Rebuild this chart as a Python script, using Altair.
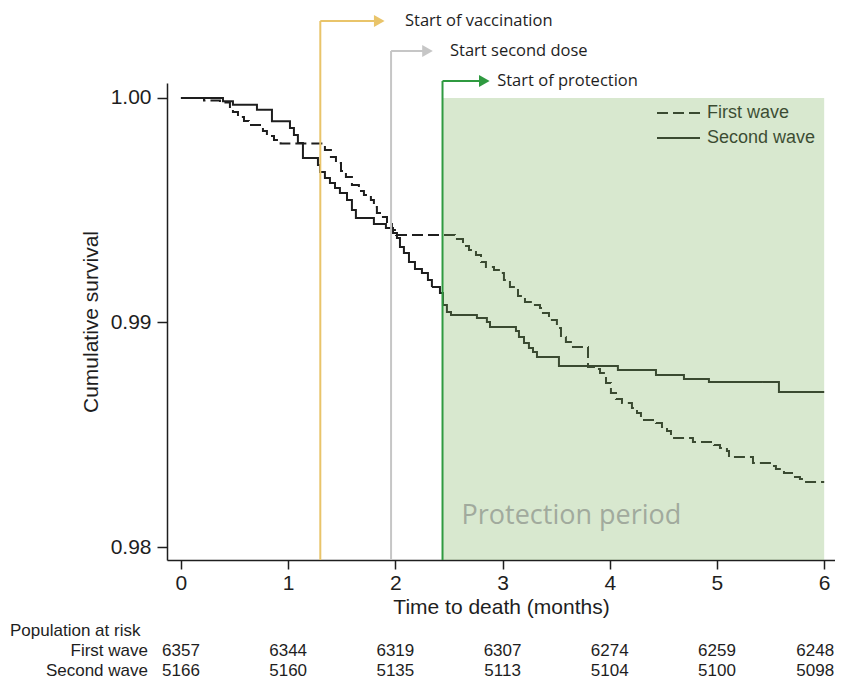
import altair as alt
import pandas as pd

# ---------------- data ----------------
first_t = [0.0, 0.215, 0.364, 0.457, 0.485, 0.532, 0.588, 0.634, 0.765, 0.802, 0.868, 0.930,
           1.343, 1.399, 1.446, 1.493, 1.539, 1.595, 1.660, 1.707, 1.772, 1.800, 1.828, 1.875,
           1.922, 1.968, 2.006, 2.556, 2.631, 2.687, 2.752, 2.799, 2.845, 2.920, 2.966, 3.013,
           3.069, 3.144, 3.209, 3.274, 3.349, 3.377, 3.433, 3.507, 3.545, 3.591, 3.647, 3.797,
           3.862, 3.909, 3.965, 4.011, 4.058, 4.114, 4.207, 4.254, 4.291, 4.431, 4.487, 4.534,
           4.571, 4.776, 4.972, 5.028, 5.093, 5.112, 5.336, 5.494, 5.550, 5.625, 5.700, 5.774,
           5.821, 6.0]
first_s = [1.0, 0.99989, 0.99980, 0.99955, 0.99938, 0.99915, 0.99898, 0.99880, 0.99853, 0.99831,
           0.99813, 0.99797, 0.99768, 0.99737, 0.99710, 0.99675, 0.99648, 0.99612, 0.99586, 0.99568,
           0.99546, 0.99514, 0.99488, 0.99470, 0.99448, 0.99412, 0.99390, 0.99372, 0.99341, 0.99323,
           0.99301, 0.99269, 0.99247, 0.99234, 0.99220, 0.99189, 0.99158, 0.99118, 0.99091, 0.99078,
           0.99065, 0.99042, 0.99011, 0.98976, 0.98935, 0.98913, 0.98891, 0.98802, 0.98793, 0.98775,
           0.98731, 0.98686, 0.98659, 0.98641, 0.98619, 0.98597, 0.98566, 0.98552, 0.98535, 0.98517,
           0.98486, 0.98468, 0.98454, 0.98441, 0.98428, 0.98401, 0.98374, 0.98361, 0.98347, 0.98330,
           0.98312, 0.98303, 0.98290, 0.98290]

second_t = [0.0, 0.392, 0.485, 0.709, 0.849, 1.017, 1.054, 1.091, 1.138, 1.278, 1.297, 1.343,
            1.390, 1.437, 1.483, 1.549, 1.595, 1.632, 1.800, 1.912, 1.978, 2.015, 2.043, 2.080,
            2.127, 2.183, 2.248, 2.304, 2.341, 2.416, 2.444, 2.481, 2.519, 2.761, 2.854, 2.883,
            3.125, 3.153, 3.200, 3.246, 3.284, 3.321, 3.526, 4.076, 4.431, 4.692, 4.925, 5.578, 6.0]
second_s = [1.0, 0.99985, 0.99970, 0.99948, 0.99896, 0.99866, 0.99835, 0.99800, 0.99733, 0.99702,
            0.99670, 0.99644, 0.99621, 0.99599, 0.99577, 0.99546, 0.99501, 0.99465, 0.99439, 0.99421,
            0.99399, 0.99376, 0.99336, 0.99310, 0.99269, 0.99238, 0.99220, 0.99189, 0.99158, 0.99131,
            0.99078, 0.99047, 0.99033, 0.99020, 0.99002, 0.98980, 0.98962, 0.98935, 0.98909, 0.98886,
            0.98869, 0.98846, 0.98806, 0.98788, 0.98766, 0.98748, 0.98735, 0.98690, 0.98690]

wave_names = ["First wave", "Second wave"]
months = [0, 1, 2, 3, 4, 5, 6]
first_risk = [6357, 6344, 6319, 6307, 6274, 6259, 6248]
second_risk = [5166, 5160, 5135, 5113, 5104, 5100, 5098]
y_ticks = [0.98, 0.99, 1.00]

event_labels = ["Start of vaccination", "Start second dose", "Start of protection"]
event_times = [1.30, 1.96, 2.44]
protection_start = 2.44
protection_end = 6.0

# ---------------- layout / style ----------------
W, H = 668, 477
event_colors = ["#e9c46a", "#c6c6c6", "#2f9a40"]
arrow_top = [-62, -32, -2]          # pixel offsets above the plot
arrow_tip = [1.85, 2.30, 2.83]      # x position of arrow heads (months axis)
label_x = [2.09, 2.51, 2.95]        # x position of annotation labels
INK = "#1e1e1e"
AXFONT = "Liberation Sans"
ROW_Y = [548, 568, 588]             # pixel rows of the risk table

xscale = alt.Scale(domain=[-0.13, 6.101], nice=False, zero=False)
yscale = alt.Scale(domain=[0.979421, 1.000668], nice=False, zero=False)

curves = pd.DataFrame({
    "t": first_t + second_t,
    "s": first_s + second_s,
    "wave": [wave_names[0]] * len(first_t) + [wave_names[1]] * len(second_t),
})

x_axis = alt.Axis(values=months, format="d", tickSize=9, labelFontSize=21, labelPadding=3,
                  titleFontSize=21, titlePadding=3, labelFont=AXFONT, titleFont=AXFONT,
                  titleFontWeight="normal", domainColor=INK, domainWidth=1.5, tickColor=INK,
                  tickWidth=1.5, labelColor=INK, titleColor=INK, grid=False)
y_axis = alt.Axis(values=y_ticks, format=".2f", tickSize=10, labelFontSize=21, labelPadding=6,
                  titleFontSize=21, titlePadding=9, labelFont=AXFONT, titleFont=AXFONT,
                  titleFontWeight="normal", domainColor=INK, domainWidth=1.5, tickColor=INK,
                  tickWidth=1.5, labelColor=INK, titleColor=INK, grid=False)

lines = alt.Chart(curves).mark_line(interpolate="step-after", strokeWidth=2, color=INK).encode(
    x=alt.X("t:Q", scale=xscale, axis=x_axis, title="Time to death (months)"),
    y=alt.Y("s:Q", scale=yscale, axis=y_axis, title="Cumulative survival"),
    strokeDash=alt.StrokeDash("wave:N", scale=alt.Scale(domain=wave_names, range=[[11, 5], [1, 0]]),
                              legend=None),
)

# manual legend (top right, inside the plot)
leg_dash = alt.Chart().mark_rule(strokeWidth=2, color=INK, strokeDash=[11, 5]).encode(
    x=alt.value(490), x2=alt.value(533), y=alt.value(30))
leg_solid = alt.Chart().mark_rule(strokeWidth=2, color=INK).encode(
    x=alt.value(490), x2=alt.value(533), y=alt.value(55))
leg_t1 = alt.Chart().mark_text(align="left", baseline="middle", font=AXFONT, fontSize=18, color=INK).encode(
    x=alt.value(540), y=alt.value(30), text=alt.value(wave_names[0]))
leg_t2 = alt.Chart().mark_text(align="left", baseline="middle", font=AXFONT, fontSize=18, color=INK).encode(
    x=alt.value(540), y=alt.value(55), text=alt.value(wave_names[1]))

prot_df = pd.DataFrame({"start": [protection_start], "end": [protection_end]})
overlay = alt.Chart(prot_df).mark_rect(fill="#7db25f", opacity=0.3).encode(
    x=alt.X("start:Q", scale=xscale), x2="end:Q", y=alt.datum(1.0), y2=alt.value(H))
prot_text = alt.Chart(prot_df).mark_text(align="left", baseline="middle", font="Open Sans",
                                         fontSize=27, color="#a1aa9d", dx=19).encode(
    x=alt.X("start:Q", scale=xscale), y=alt.value(433), text=alt.value("Protection period"))

layers = [lines, leg_dash, leg_solid, leg_t1, leg_t2, overlay, prot_text]

for i in range(3):
    c = event_colors[i]
    layers.append(alt.Chart().mark_rule(strokeWidth=2, color=c).encode(
        x=alt.datum(event_times[i], scale=xscale), y=alt.value(arrow_top[i]), y2=alt.value(H)))
    layers.append(alt.Chart().mark_rule(strokeWidth=2, color=c).encode(
        x=alt.datum(event_times[i], scale=xscale), x2=alt.datum(arrow_tip[i]), y=alt.value(arrow_top[i])))
    layers.append(alt.Chart().mark_point(shape="triangle-right", filled=True, size=150, opacity=1,
                                         color=c).encode(
        x=alt.datum(arrow_tip[i], scale=xscale), y=alt.value(arrow_top[i])))
    layers.append(alt.Chart().mark_text(align="left", baseline="middle", font="Open Sans",
                                        fontSize=16.5, color=INK).encode(
        x=alt.datum(label_x[i], scale=xscale), y=alt.value(arrow_top[i]), text=alt.value(event_labels[i])))

# population at risk table
risk = pd.DataFrame({"month": months, "first": first_risk, "second": second_risk})
risk_mid = risk[risk["month"] < 6]
risk_end = risk[risk["month"] == 6]
tstyle = dict(font=AXFONT, fontSize=17, color=INK, baseline="middle")
layers.append(alt.Chart().mark_text(align="left", **tstyle).encode(
    x=alt.value(-157), y=alt.value(ROW_Y[0]), text=alt.value("Population at risk")))
layers.append(alt.Chart().mark_text(align="right", **tstyle).encode(
    x=alt.value(-19), y=alt.value(ROW_Y[1]), text=alt.value(wave_names[0])))
layers.append(alt.Chart().mark_text(align="right", **tstyle).encode(
    x=alt.value(-19), y=alt.value(ROW_Y[2]), text=alt.value(wave_names[1])))
for col, ry in (("first", ROW_Y[1]), ("second", ROW_Y[2])):
    layers.append(alt.Chart(risk_mid).mark_text(align="center", **tstyle).encode(
        x=alt.X("month:Q", scale=xscale), y=alt.value(ry), text=f"{col}:Q"))
    layers.append(alt.Chart(risk_end).mark_text(align="right", dx=10, **tstyle).encode(
        x=alt.X("month:Q", scale=xscale), y=alt.value(ry), text=f"{col}:Q"))

chart = alt.layer(*layers).properties(
    width=W, height=H,
    background="white",
    autosize=alt.AutoSizeParams(type="none"),
    padding={"left": 159, "top": 75, "right": 0, "bottom": 121},
).configure_view(stroke=None)

chart.save("out.html", embed_options={"renderer": "svg", "actions": False})
